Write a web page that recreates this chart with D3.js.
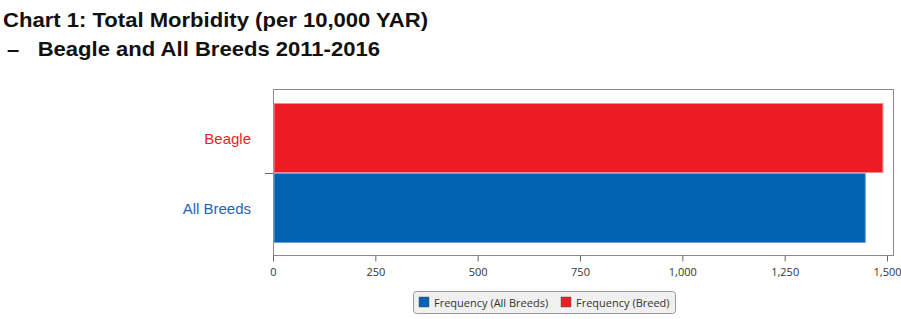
<!DOCTYPE html>
<html>
<head>
<meta charset="utf-8">
<script src="https://cdn.jsdelivr.net/npm/d3@7"></script>
<style>
  body { margin: 0; background: #fff; }
  svg { display: block; }
  text.pre { white-space: pre; }
</style>
</head>
<body>
<div id="chart"></div>
<script>
var categories = ['Beagle', 'All Breeds'];
var values = [1490, 1447];
var seriesNames = ['Frequency (All Breeds)', 'Frequency (Breed)'];
var tickValues = [0, 250, 500, 750, 1000, 1250, 1500];

var width = 901;
var height = 319;
var plot = {left: 273, top: 89, right: 893, bottom: 255};

var barColors = {'Beagle': '#ed1c24', 'All Breeds': '#0063b1'};
var edgeColors = {'Beagle': '#f48a8e', 'All Breeds': '#6fa5d6'};
var labelColors = {'Beagle': '#ed1c24', 'All Breeds': '#1f64b4'};

var svg = d3.select('#chart').append('svg')
    .attr('width', width)
    .attr('height', height);

// title
var title = svg.append('g')
    .attr('font-family', 'Liberation Sans, Arial, sans-serif')
    .attr('font-weight', 'bold')
    .attr('font-size', 21)
    .attr('fill', '#111');
title.append('text').attr('x', 3).attr('y', 27)
    .attr('textLength', 425).attr('lengthAdjust', 'spacingAndGlyphs')
    .text('Chart 1: Total Morbidity (per 10,000 YAR)');
title.append('text').attr('class', 'pre').attr('x', 7).attr('y', 56)
    .attr('textLength', 373).attr('lengthAdjust', 'spacingAndGlyphs')
    .text('\u2013   Beagle and All Breeds 2011-2016');

var x = d3.scaleLinear()
    .domain([0, 1500])
    .range([plot.left, plot.left + 614]);

var y = d3.scaleBand()
    .domain(categories)
    .range([plot.top + 14, plot.bottom - 12])
    .padding(0);

// plot frame
svg.append('rect')
    .attr('x', plot.left + 0.5)
    .attr('y', plot.top + 0.5)
    .attr('width', plot.right - plot.left)
    .attr('height', plot.bottom - plot.top)
    .attr('fill', 'none')
    .attr('stroke', '#8a8a8a');

// bars
svg.append('g').selectAll('rect')
    .data(categories)
    .enter()
    .append('rect')
        .attr('x', x(0) + 1)
        .attr('y', function(d) { return y(d) + 0.5; })
        .attr('width', function(d, i) { return x(values[i]) - x(0) - 1; })
        .attr('height', y.bandwidth() - 1)
        .attr('fill', function(d) { return barColors[d]; })
        .attr('stroke', function(d) { return edgeColors[d]; })
        .attr('stroke-width', 1);

// category tick between bars
svg.append('line')
    .attr('x1', plot.left - 8).attr('x2', plot.left)
    .attr('y1', y('All Breeds') + 0.5).attr('y2', y('All Breeds') + 0.5)
    .attr('stroke', '#666');

// category labels
svg.append('g').selectAll('text')
    .data(categories)
    .enter()
    .append('text')
        .attr('x', 251)
        .attr('y', function(d) { return y(d) + y.bandwidth() / 2 + 6; })
        .attr('text-anchor', 'end')
        .attr('font-family', 'Liberation Sans, Arial, sans-serif')
        .attr('font-size', 15)
        .attr('fill', function(d) { return labelColors[d]; })
        .text(function(d) { return d; });

// x axis
var xAxis = d3.axisBottom(x)
    .tickValues(tickValues)
    .tickSize(6)
    .tickSizeOuter(0)
    .tickFormat(d3.format(','));

var axisG = svg.append('g')
    .attr('transform', 'translate(0,' + (plot.bottom + 0.5) + ')')
    .call(xAxis);
axisG.select('.domain').remove();
axisG.selectAll('.tick line').attr('stroke', '#666');
axisG.selectAll('.tick text')
    .attr('font-family', 'Open Sans, DejaVu Sans, sans-serif')
    .attr('font-size', 11)
    .attr('fill', '#333')
    .attr('y', 9)
    .attr('dy', '1em');

// legend
var legend = svg.append('g');
legend.append('rect')
    .attr('x', 413.5).attr('y', 291.5)
    .attr('width', 262).attr('height', 22)
    .attr('rx', 3)
    .attr('fill', '#f0f0f0')
    .attr('stroke', '#999');

var legendX = [419, 561];
var legendColors = ['#0063b1', '#ed1c24'];
var items = legend.selectAll('g.item')
    .data(seriesNames)
    .enter()
    .append('g')
        .attr('class', 'item')
        .attr('transform', function(d, i) { return 'translate(' + legendX[i] + ',297)'; });
items.append('rect')
    .attr('width', 10).attr('height', 10)
    .attr('fill', function(d, i) { return legendColors[i]; })
    .attr('stroke', '#555')
    .attr('stroke-width', 0.5);
items.append('text')
    .attr('x', 15).attr('y', 9.5)
    .attr('font-family', 'Open Sans, DejaVu Sans, sans-serif')
    .attr('font-size', 11)
    .attr('fill', '#333')
    .text(function(d) { return d; });
</script>
</body>
</html>
